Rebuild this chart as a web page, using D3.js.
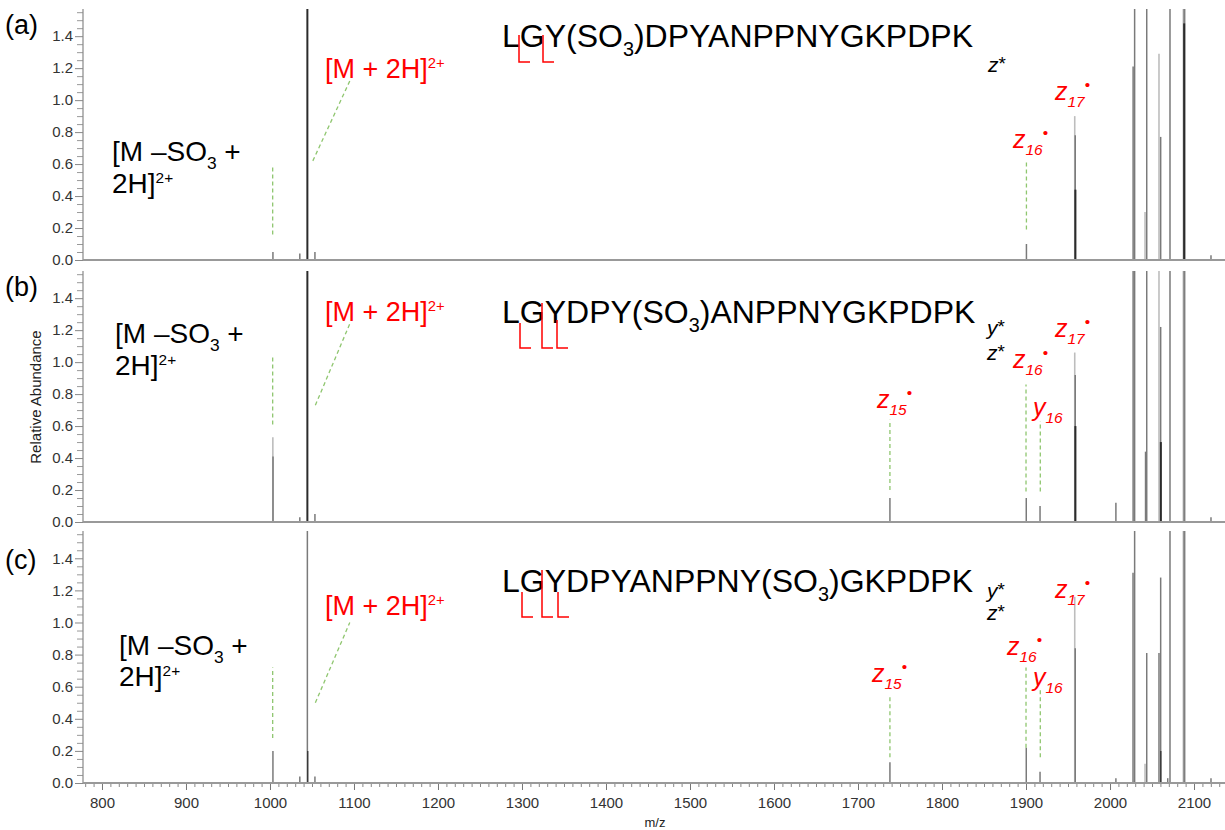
<!DOCTYPE html>
<html>
<head>
<meta charset="utf-8">
<title>MS spectra</title>
<script src="https://cdnjs.cloudflare.com/ajax/libs/d3/7.8.5/d3.min.js"></script>
<style>
  body { margin: 0; background: #fff; }
  text { font-family: Arial, "Liberation Sans", sans-serif; }
</style>
</head>
<body>
<script>
// ---- data (m/z, relative abundance) ----
var mzTicks = d3.range(800, 2101, 100);
var yTicks = [0, 0.2, 0.4, 0.6, 0.8, 1.0, 1.2, 1.4];
var panelLabels = ["(a)", "(b)", "(c)"];

// light trace / main trace / dark trace for each panel
var lightA = [[1958, 0.9], [2041.7, 0.3], [2058.3, 1.29], [2087.3, 1.6], [2089.3, 1.6]];
var peaksA = [[1003.5, 0.05], [1035.5, 0.04], [1053.5, 0.05], [1900.5, 0.1], [1958.6, 0.78],
              [2027.5, 1.21], [2029.3, 1.6], [2043.7, 1.6], [2060.3, 0.77], [2071.4, 1.6],
              [2088.3, 1.6], [2120.2, 0.03]];
var darkA = [[1044.5, 1.6], [1958.8, 0.44], [2088.3, 1.48]];

var lightB = [[1003.4, 0.53], [1958, 1.06], [2058.3, 1.6], [2087.3, 1.6], [2089.3, 1.6]];
var peaksB = [[1003.6, 0.41], [1035.5, 0.03], [1053.5, 0.05], [1738, 0.15], [1900.3, 0.15],
              [1916.7, 0.1], [1958.6, 0.92], [2007, 0.12], [2027.5, 1.6], [2029.3, 1.6],
              [2042.3, 0.44], [2043.7, 1.6], [2060.3, 1.22], [2071.4, 1.6], [2088.3, 1.6],
              [2120.2, 0.03]];
var darkB = [[1044.5, 1.6], [1958.8, 0.6], [2060.5, 0.5]];

var lightC = [[1958, 1.16], [2041.7, 0.12], [2087.3, 1.6], [2089.3, 1.6]];
var peaksC = [[1003.5, 0.2], [1035.5, 0.04], [1044.5, 1.6], [1053.5, 0.04], [1738, 0.13],
              [1900.3, 0.22], [1916.7, 0.07], [1958.6, 0.84], [2007, 0.03], [2027.4, 1.31],
              [2029.3, 1.6], [2043.7, 0.81], [2058.3, 0.81], [2060.3, 1.28], [2068.7, 0.03],
              [2071.4, 1.6], [2088.3, 1.6], [2120.2, 0.03]];
var darkC = [[1045, 0.2], [2060.5, 0.2]];

// green dashed guides: [m/z, from, to]
var guidesA = [[1003.2, 0.16, 0.59], [1900.5, 0.19, 0.62]];
var guidesB = [[1003.2, 0.61, 1.04], [1738, 0.2, 0.64], [1900, 0.19, 0.86], [1917, 0.19, 0.63]];
var guidesC = [[1003.2, 0.28, 0.72], [1738, 0.16, 0.55], [1900, 0.22, 0.72], [1917, 0.16, 0.59]];
// diagonal guide to the precursor label: [mz0, y0, mz1, y1]
var diagA = [1051, 0.62, 1095, 1.12];
var diagB = [1054, 0.73, 1095, 1.24];
var diagC = [1054, 0.5, 1095, 1.0];

var width = 1225, height = 830;
var svg = d3.select("body").append("svg").attr("width", width).attr("height", height);

var x = d3.scaleLinear().domain([777.4, 2134.5]).range([83, 1223]);
var panels = [
  { top: 9,   bottom: 260, light: lightA, peaks: peaksA, dark: darkA, guides: guidesA, diag: diagA },
  { top: 271, bottom: 522, light: lightB, peaks: peaksB, dark: darkB, guides: guidesB, diag: diagB },
  { top: 531, bottom: 783, light: lightC, peaks: peaksC, dark: darkC, guides: guidesC, diag: diagC }
];

// rich text with sub / superscripts
function richText(g, px, py, parts, size, color) {
  var t = g.append("text").attr("x", px).attr("y", py).attr("fill", color)
    .style("font-size", size + "px");
  var cur = 0;
  parts.forEach(function(p) {
    var k = p.sub ? {s: 0.62, off: 0.27} : p.sup ? {s: 0.55, off: -0.37}
          : p.dot ? {s: 0.62, off: -0.42} : p.star ? {s: 0.9, off: -0.1} : {s: 1, off: 0};
    var off = k.off * size;
    t.append("tspan").attr("dy", off - cur)
      .style("font-size", (k.s * size) + "px")
      .style("font-style", p.i ? "italic" : null)
      .text(p.t);
    cur = off;
  });
  return t;
}

panels.forEach(function(p, pi) {
  var y = d3.scaleLinear().domain([0, 1.57]).range([p.bottom, p.top]);
  var g = svg.append("g");

  g.append("clipPath").attr("id", "clip" + pi).append("rect")
    .attr("x", 83).attr("y", p.top).attr("width", 1142).attr("height", p.bottom - p.top);
  var plot = g.append("g").attr("clip-path", "url(#clip" + pi + ")");

  function sticks(data, color, w) {
    plot.selectAll(null).data(data).enter().append("line")
      .attr("x1", function(d) { return x(d[0]); })
      .attr("x2", function(d) { return x(d[0]); })
      .attr("y1", y(0))
      .attr("y2", function(d) { return y(d[1]); })
      .attr("stroke", color).attr("stroke-width", w);
  }
  sticks(p.light, "#bdbdbd", 1.6);
  sticks(p.peaks, "#7a7a7a", 1.5);
  sticks(p.dark, "#2b2b2b", pi < 2 ? 2 : 1.2);

  // green guides
  plot.selectAll(null).data(p.guides).enter().append("line")
    .attr("x1", function(d) { return x(d[0]); })
    .attr("x2", function(d) { return x(d[0]); })
    .attr("y1", function(d) { return y(d[1]); })
    .attr("y2", function(d) { return y(d[2]); })
    .attr("stroke", "#8fc66f").attr("stroke-width", 1.3).attr("stroke-dasharray", "4,3");
  plot.append("line")
    .attr("x1", x(p.diag[0])).attr("y1", y(p.diag[1]))
    .attr("x2", x(p.diag[2])).attr("y2", y(p.diag[3]))
    .attr("stroke", "#8fc66f").attr("stroke-width", 1.3).attr("stroke-dasharray", "4,3");

  // y axis
  var yAxis = g.append("g").attr("transform", "translate(83,0)")
    .call(d3.axisLeft(y).tickValues(yTicks).tickSize(8).tickPadding(2).tickFormat(d3.format(".1f")));
  yAxis.select(".domain").remove();
  yAxis.selectAll("line").attr("stroke", "#888");
  yAxis.selectAll("text").style("font-size", "15px").attr("fill", "#333")
    .style("font-family", "Arial, 'Liberation Sans', sans-serif");
  var yMinor = g.append("g").attr("transform", "translate(83,0)")
    .call(d3.axisLeft(y).tickValues(d3.range(1, 32).map(function(i) { return i * 0.05; })
      .filter(function(v) { return Math.abs(v * 5 - Math.round(v * 5)) > 0.01; }))
      .tickSize(6).tickFormat(""));
  yMinor.select(".domain").remove();
  yMinor.selectAll("line").attr("stroke", "#999");
  g.append("line").attr("x1", 83).attr("x2", 83).attr("y1", p.top).attr("y2", p.bottom)
    .attr("stroke", "#888").attr("stroke-width", 1.2);
  g.append("line").attr("x1", 83).attr("x2", 1225).attr("y1", p.bottom).attr("y2", p.bottom)
    .attr("stroke", "#999").attr("stroke-width", 2);

  // panel label
  g.append("text").attr("x", 5).attr("y", [34, 296, 569][pi]).style("font-size", "27px")
    .attr("fill", "#000").text(panelLabels[pi]);
});

// x axis on bottom panel
var xAxis = svg.append("g").attr("transform", "translate(0,784)")
  .call(d3.axisBottom(x).tickValues(mzTicks).tickSize(6).tickPadding(7).tickFormat(d3.format("d")));
xAxis.select(".domain").remove();
xAxis.selectAll("line").attr("stroke", "#777");
xAxis.selectAll("text").style("font-size", "15px").attr("fill", "#333")
  .style("font-family", "Arial, 'Liberation Sans', sans-serif");
var xMinor = svg.append("g").attr("transform", "translate(0,784)")
  .call(d3.axisBottom(x).tickValues(d3.range(780, 2135, 10).filter(function(v) { return v % 100 !== 0; }))
    .tickSize(3).tickFormat(""));
xMinor.select(".domain").remove();
xMinor.selectAll("line").attr("stroke", "#888");

svg.append("text").attr("transform", "translate(41,397) rotate(-90)")
  .attr("text-anchor", "middle").style("font-size", "15px").attr("fill", "#222")
  .text("Relative Abundance");
svg.append("text").attr("x", 655).attr("y", 827).attr("text-anchor", "middle")
  .style("font-size", "13px").attr("fill", "#222").text("m/z");

// ---- annotations ----
var red = "#ff0000";
var mso3a = [{t: "[M \u2013SO"}, {t: "3", sub: 1}, {t: " +"}];
var mso3b = [{t: "2H]"}, {t: "2+", sup: 1}];
var mh = [{t: "[M + 2H]"}, {t: "2+", sup: 1}];
function zl(letter, n, dot) {
  var parts = [{t: letter, i: 1}, {t: n, sub: 1, i: 1}];
  if (dot) parts.push({t: "\u2022", dot: 1});
  return parts;
}
var star = function(l) { return [{t: l, i: 1}, {t: "*", star: 1}]; };

var pepA = [{t: "LGY(SO"}, {t: "3", sub: 1}, {t: ")DPYANPPNYGKPDPK"}];
var pepB = [{t: "LGYDPY(SO"}, {t: "3", sub: 1}, {t: ")ANPPNYGKPDPK"}];
var pepC = [{t: "LGYDPYANPPNY(SO"}, {t: "3", sub: 1}, {t: ")GKPDPK"}];

var ann = svg.append("g");
// (a)
richText(ann, 502, 47, pepA, 32, "#000");
richText(ann, 325, 78, mh, 27, red);
richText(ann, 112, 161, mso3a, 28, "#000");
richText(ann, 112, 193, mso3b, 28, "#000");
richText(ann, 988, 72, star("z"), 21, "#000");
richText(ann, 1055, 100, zl("z", "17", true), 25, red);
richText(ann, 1013, 148, zl("z", "16", true), 25, red);
// (b)
richText(ann, 502, 323, pepB, 32, "#000");
richText(ann, 325, 321, mh, 27, red);
richText(ann, 115, 343, mso3a, 28, "#000");
richText(ann, 115, 375, mso3b, 28, "#000");
richText(ann, 987, 335, star("y"), 21, "#000");
richText(ann, 987, 360, star("z"), 21, "#000");
richText(ann, 1055, 337, zl("z", "17", true), 25, red);
richText(ann, 1013, 368, zl("z", "16", true), 25, red);
richText(ann, 877, 408, zl("z", "15", true), 25, red);
richText(ann, 1033, 416, zl("y", "16", false), 25, red);
// (c)
richText(ann, 502, 592, pepC, 32, "#000");
richText(ann, 325, 615, mh, 27, red);
richText(ann, 119, 655, mso3a, 28, "#000");
richText(ann, 119, 686, mso3b, 28, "#000");
richText(ann, 987, 598, star("y"), 21, "#000");
richText(ann, 987, 620, star("z"), 21, "#000");
richText(ann, 1055, 598, zl("z", "17", true), 25, red);
richText(ann, 1007, 655, zl("z", "16", true), 25, red);
richText(ann, 872, 682, zl("z", "15", true), 25, red);
richText(ann, 1033, 686, zl("y", "16", false), 25, red);

// cleavage brackets: [x, top, bottom]
var brackets = [
  [519, 35, 62], [543, 35, 62],
  [520, 323, 348], [542, 303, 348], [557, 320, 348],
  [522, 592, 617], [542, 570, 617], [558, 592, 617]
];
ann.selectAll(null).data(brackets).enter().append("path")
  .attr("d", function(d) { return "M" + d[0] + "," + d[1] + "V" + d[2] + "H" + (d[0] + 11); })
  .attr("fill", "none").attr("stroke", red).attr("stroke-width", 1.5);
</script>
</body>
</html>
